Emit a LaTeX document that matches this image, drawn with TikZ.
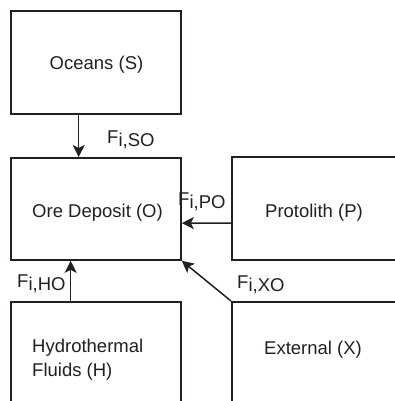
\documentclass[tikz,border=0pt]{standalone}
\usepackage{fontspec}
\setmainfont{Liberation Sans}
\usetikzlibrary{arrows.meta,calc}
\definecolor{ink}{HTML}{231F20}
\newcommand{\flux}[1]{F\raisebox{-3pt}{i,#1}}
\begin{document}
\begin{tikzpicture}[x=1pt,y=-1pt,
  box/.style={draw=ink,line width=1.8pt,rectangle,inner sep=0pt,anchor=north west},
  txt/.style={text=ink,inner sep=0pt,font=\fontsize{18.5}{24}\selectfont},
  flow/.style={draw=ink,line width=1.5pt,-{Stealth[length=12pt,width=12pt,inset=3pt]}},
  flab/.style={text=ink,inner sep=0pt,anchor=base west,font=\fontsize{18.5}{22}\selectfont}]
\useasboundingbox (0,0) rectangle (395,401);
\clip (0,0) rectangle (395,401);
\fill[white] (0,0) rectangle (395,401);
% boxes
\node[box,minimum width=170pt,minimum height=103pt] (S) at (10,10) {};
\node[box,minimum width=170pt,minimum height=102pt] (O) at (10,157) {};
\node[box,minimum width=200pt,minimum height=103pt] (P) at (231,156) {};
\node[box,minimum width=170pt,minimum height=150pt] (H) at (10,301) {};
\node[box,minimum width=200pt,minimum height=150pt] (X) at (231,301) {};
% box texts
\node[txt,anchor=base] (St) at (96.5,70) {Oceans (S)};
\node[txt,anchor=base] (Ot) at (97.5,217.5) {Ore Deposit (O)};
\node[txt,anchor=base] (Pt) at (314,217) {Protolith (P)};
\node[txt,anchor=base west,align=left] (Ht) at (32,376) {Hydrothermal\\Fluids (H)};
\node[txt,anchor=base] (Xt) at (313,354) {External (X)};
% flows
\draw[flow] ($(S.south west)!0.4!(S.south east)$) -- ($(O.north west)!0.4!(O.north east)$);
\draw[flow] ($(P.north west)!0.64!(P.south west)$) -- ($(O.north east)!0.637!(O.south east)$);
\draw[flow] ($(H.north west)!0.353!(H.north east)$) -- ($(O.south west)!0.353!(O.south east)$);
\draw[flow] (X.north west) -- (O.south east);
% labels
\node[flab] (lSO) at (107,143) {\flux{SO}};
\node[flab] (lPO) at (178,205) {\flux{PO}};
\node[flab] (lHO) at (17,287) {\flux{HO}};
\node[flab] (lXO) at (237,288) {\flux{XO}};
\end{tikzpicture}
\end{document}
